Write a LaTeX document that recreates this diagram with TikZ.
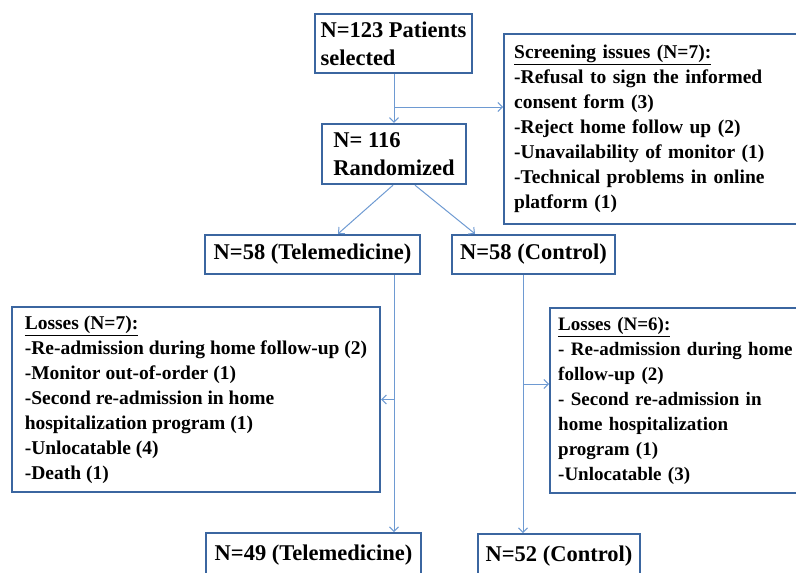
\documentclass[tikz,border=0pt]{standalone}
\usepackage{fontspec}
\setmainfont{Liberation Serif}
\usetikzlibrary{arrows.meta,calc}
\definecolor{boxc}{HTML}{3B66A0}
\definecolor{arrc}{HTML}{6E9AD2}
\begin{document}
\begin{tikzpicture}[x=1pt,y=-1pt,
  hbox/.style={draw=boxc, line width=2.4pt, inner sep=0pt, align=left,
    font=\bfseries\fontsize{22.5}{28}\selectfont},
  lbox/.style={draw=boxc, line width=2.4pt, inner ysep=0pt, align=left,
    font=\bfseries\fontsize{19.5}{25}\selectfont},
  arr/.style={draw=arrc, line width=1pt, -{Straight Barb[length=4.5pt,width=9pt]}}]
\path[use as bounding box] (0,0) rectangle (796,573);
\clip (0,0) rectangle (796,573);

\node[hbox, minimum width=157, minimum height=59] (n123) at (393.5,43.5) {N=123 Patients\\selected};
\node[hbox, minimum width=144, minimum height=60] (n116) at (394,154) {N= 116\\Randomized};
\node[lbox, anchor=north west, inner xsep=10pt, text width=290pt, minimum height=190] (scr) at (503,33)
 {\underline{Screening issues (N=7):}\\
  -Refusal to sign the informed\\
  consent form (3)\\
  -Reject home follow up (2)\\
  -Unavailability of monitor (1)\\
  -Technical problems in online\\
  platform (1)};
\node[hbox, minimum width=215, minimum height=39] (tele) at (312.5,254.5) {N=58 (Telemedicine)};
\node[hbox, minimum width=163, minimum height=39] (ctrl) at (533.5,254.5) {N=58 (Control)};
\node[lbox, inner xsep=0pt, minimum width=368, minimum height=185] (lossL) at (196,399.5)
 {\underline{Losses (N=7):}\\
  -Re-admission during home follow-up (2)\\
  -Monitor out-of-order (1)\\
  -Second re-admission in home\\
  hospitalization program (1)\\
  -Unlocatable (4)\\
  -Death (1)};
\node[lbox, anchor=north west, inner xsep=8pt, text width=280pt, minimum height=185,
  font=\bfseries\fontsize{19}{25}\selectfont] (lossR) at (549,307)
 {\underline{Losses (N=6):}\\
  - Re-admission during home\\
  follow-up (2)\\
  - Second re-admission in\\
  home hospitalization\\
  program (1)\\
  -Unlocatable (3)};
\node[hbox, anchor=north, minimum width=215, minimum height=44] (tele2) at (313.5,532) {N=49 (Telemedicine)};
\node[hbox, anchor=north, minimum width=162, minimum height=44] (ctrl2) at (559,533) {N=52 (Control)};

% connectors
\coordinate (b1) at (394,107);
\draw[arr] (n123.south -| b1) -- (n116.north -| b1);
\draw[arr] (b1) -- (b1 -| scr.west);
\draw[arr] ([xshift=-1pt]n116.south) -- ([xshift=25.5pt]tele.north);
\draw[arr] ([xshift=21pt]n116.south) -- ([xshift=-58.5pt]ctrl.north);

\coordinate (tv) at (394,274);
\draw[arr] (tele.south -| tv) -- (tele2.north -| tv);
\draw[arr] (lossL.east -| tv) -- (lossL.east);

\coordinate (cv) at (523,274);
\coordinate (cb) at (523,384);
\draw[arr] (ctrl.south -| cv) -- (ctrl2.north -| cv);
\draw[arr] (cb) -- (cb -| lossR.west);
\end{tikzpicture}
\end{document}
